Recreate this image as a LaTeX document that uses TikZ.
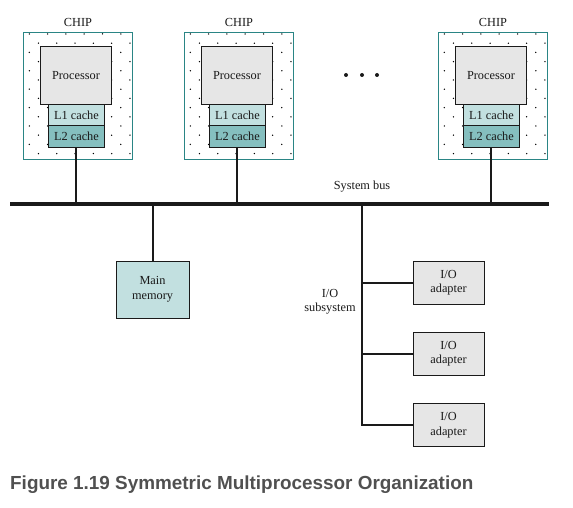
\documentclass[tikz,border=0pt]{standalone}
\usepackage{fontspec}
\setmainfont{Liberation Serif}
\newfontfamily\capfont{Liberation Sans}
\definecolor{chipc}{HTML}{2A8585}
\definecolor{procc}{HTML}{E6E6E6}
\definecolor{lonec}{HTML}{C2E0E0}
\definecolor{ltwoc}{HTML}{85BFBF}
\definecolor{memc}{HTML}{C2E0E0}
\definecolor{capc}{HTML}{505050}
\definecolor{linec}{HTML}{1A1A1A}
\begin{document}
\begin{tikzpicture}[x=1pt,y=-1pt,
  txt/.style={font=\fontsize{12.3}{14.5}\selectfont, text=black!90, align=center, inner sep=0pt},
  chipbox/.style={draw=chipc, line width=1pt, minimum width=109pt, minimum height=127pt, anchor=north west, inner sep=0pt},
  box/.style={draw=linec, line width=0.9pt, txt},
  procbox/.style={box, fill=procc, minimum width=71pt, minimum height=58pt, anchor=north west},
  lonebox/.style={box, fill=lonec, minimum width=56pt, minimum height=21pt, anchor=north west},
  ltwobox/.style={box, fill=ltwoc, minimum width=56pt, minimum height=22pt, anchor=north west},
  membox/.style={box, fill=memc, minimum width=73pt, minimum height=57pt},
  adbox/.style={box, fill=procc, minimum width=71pt, minimum height=43pt},
  conn/.style={draw=linec, line width=2pt},
  bus/.style={draw=linec, line width=3.6pt}
]
\useasboundingbox (0,0) rectangle (573,508);
% chips
\foreach \i/\x in {1/23,2/184,3/438}{
  \node[chipbox] (chip\i) at (\x,32) {};
  \begin{scope}
    \clip (chip\i.north west) rectangle (chip\i.south east);
    \foreach \r in {0,...,13}{
      \foreach \c in {0,...,6}{
        \pgfmathsetmacro\dx{\x+6.3+mod(\r,2)*9.15+\c*18.3}
        \pgfmathsetmacro\dy{34+\r*9.2}
        \fill[black] (\dx,\dy) circle (0.75pt);
      }
    }
  \end{scope}
  \node[chipbox] at (\x,32) {};
  \node[txt] (chiplab\i) at (chip\i.north |- 0,22) {CHIP};
  \node[procbox] (proc\i) at (\x+17,46) {Processor};
  \node[lonebox] (lone\i) at (\x+25,104) {L1 cache};
  \node[ltwobox] (ltwo\i) at (\x+25,125) {L2 cache};
}
% dots between chips
\foreach \k/\dx in {1/346,2/362,3/377}{
  \fill[linec] (\dx,75) circle (2pt) coordinate (ell\k);
}
% bus
\coordinate (busL) at (10,204);
\coordinate (busR) at (549,204);
\draw[bus] (busL) -- (busR);
\node[txt] (buslab) at (362,187) {System bus};
\foreach \i in {1,2,3}{
  \draw[conn] (ltwo\i.south) -- (ltwo\i.south |- busL);
}
% main memory
\node[membox] (mem) at (152.5,289.5) {Main\\memory};
\draw[conn] (mem.north) -- (mem.north |- busL);
% I/O subsystem
\node[adbox] (ad1) at (448.5,282.5) {I/O\\adapter};
\node[adbox] (ad2) at (448.5,353.5) {I/O\\adapter};
\node[adbox] (ad3) at (448.5,425) {I/O\\adapter};
\coordinate (iotop) at (362,204);
\draw[conn] (iotop) -- (ad3.west -| iotop) -- (ad3.west);
\draw[conn] (ad1.west -| iotop) -- (ad1.west);
\draw[conn] (ad2.west -| iotop) -- (ad2.west);
\node[txt] (iolab) at (330,302) {I/O\\subsystem};
% caption
\node[anchor=base west, inner sep=0pt, text=capc, font=\capfont\bfseries\fontsize{18.9}{22}\selectfont] (cap) at (10,489) {Figure 1.19 Symmetric Multiprocessor Organization};
\end{tikzpicture}
\end{document}
